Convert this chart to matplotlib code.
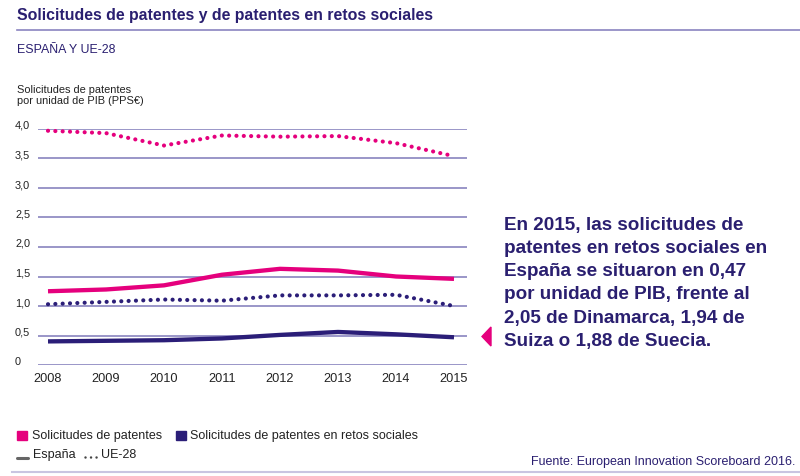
import matplotlib
matplotlib.use("Agg")
import matplotlib.pyplot as plt
from matplotlib.lines import Line2D
from matplotlib.patches import Rectangle, Polygon

# datos
anios = [2008, 2009, 2010, 2011, 2012, 2013, 2014, 2015]
esp_patentes = [1.25, 1.28, 1.35, 1.53, 1.63, 1.60, 1.50, 1.46]
ue_patentes = [3.97, 3.93, 3.72, 3.89, 3.87, 3.88, 3.76, 3.54]
esp_retos = [0.40, 0.41, 0.42, 0.45, 0.51, 0.56, 0.52, 0.47]
ue_retos = [1.03, 1.07, 1.11, 1.09, 1.18, 1.18, 1.19, 1.00]
yticks = [0, 0.5, 1.0, 1.5, 2.0, 2.5, 3.0, 3.5, 4.0]
ytick_labels = ["0", "0,5", "1,0", "1,5", "2,0", "2,5", "3,0", "3,5", "4,0"]

titulo = "Solicitudes de patentes y de patentes en retos sociales"
subtitulo = "ESPAÑA Y UE-28"
ylabel = ["Solicitudes de patentes", "por unidad de PIB (PPS€)"]
nota = ["En 2015, las solicitudes de",
        "patentes en retos sociales en",
        "España se situaron en 0,47",
        "por unidad de PIB, frente al",
        "2,05 de Dinamarca, 1,94 de",
        "Suiza o 1,88 de Suecia."]
fuente = "Fuente: European Innovation Scoreboard 2016."

ROSA = "#e5007d"
AZUL = "#2b1e78"
TEXTO = "#2a1f70"
GRID = "#7f79b9"

W, H = 800, 476
plt.rcParams['font.family'] = ['Liberation Sans', 'DejaVu Sans']

fig = plt.figure(figsize=(W / 100, H / 100), dpi=100)


def fx(x):
    return x / W


def fy(y):
    return 1 - y / H


# ejes: x 38..467 px, y 365 (0) .. 129 (4,0)
ax = fig.add_axes([fx(38), fy(365), (467 - 38) / W, (365 - 129) / H])
ax.set_xlim(2008 - 10 / 58, 2015 + 13 / 58)
ax.set_ylim(0, 4.0)
for s in ax.spines.values():
    s.set_visible(False)
ax.set_yticks([])
ax.set_xticks(anios)
ax.set_xticklabels([str(a) for a in anios], fontsize=9.2, color="#222222")
ax.tick_params(axis='x', length=0, pad=6)

for v in yticks:
    ax.axhline(v, color=GRID, lw=1.1, zorder=1)
for v, lab in zip(yticks, ytick_labels):
    ax.text(-23 / 429, v, lab, transform=ax.get_yaxis_transform(),
            ha='left', va='baseline', fontsize=7.9, color="#222222")

punteado = (0, (0.01, 1.75))
ax.plot(anios, ue_patentes, color=ROSA, lw=3, linestyle=punteado,
        dash_capstyle='round', zorder=3, clip_on=False)
ax.plot(anios, ue_retos, color=AZUL, lw=3, linestyle=punteado,
        dash_capstyle='round', zorder=3, clip_on=False)
ax.plot(anios, esp_patentes, color=ROSA, lw=3.1, solid_capstyle='butt',
        solid_joinstyle='round', zorder=4)
ax.plot(anios, esp_retos, color=AZUL, lw=3.1, solid_capstyle='butt',
        solid_joinstyle='round', zorder=4)

# título y subtítulo
fig.text(fx(17), fy(20), titulo, fontsize=11.4, fontweight='bold',
         color=TEXTO, va='baseline', ha='left')
fig.add_artist(Line2D([fx(17), fx(800)], [fy(30), fy(30)], color="#8a84c0", lw=1.2))
fig.text(fx(17), fy(53), subtitulo, fontsize=8.9, color=TEXTO, va='baseline')
fig.text(fx(17), fy(93), ylabel[0], fontsize=7.9, color="#222222", va='baseline')
fig.text(fx(17), fy(104), ylabel[1], fontsize=7.9, color="#222222", va='baseline')

# nota lateral
for i, linea in enumerate(nota):
    fig.text(fx(504), fy(229.5 + i * 23.3), linea, fontsize=13.6, fontweight='bold',
             color=TEXTO, va='baseline', ha='left')
fig.add_artist(Polygon([[fx(491), fy(327)], [fx(491), fy(346)], [fx(482), fy(336.5)]],
                       closed=True, color=ROSA, transform=fig.transFigure))

# leyenda
fig.add_artist(Rectangle((fx(17), fy(440)), 10 / W, 9 / H, color=ROSA,
                         transform=fig.transFigure))
fig.text(fx(32), fy(439), "Solicitudes de patentes", fontsize=9, color="#222222",
         va='baseline')
fig.add_artist(Rectangle((fx(176), fy(440)), 10 / W, 9 / H, color=AZUL,
                         transform=fig.transFigure))
fig.text(fx(190), fy(439), "Solicitudes de patentes en retos sociales", fontsize=9,
         color="#222222", va='baseline')
fig.add_artist(Line2D([fx(17), fx(28)], [fy(458), fy(458)], color="#666666", lw=2.2,
                      solid_capstyle='round'))
fig.text(fx(33), fy(458), "España", fontsize=9, color="#222222", va='baseline')
fig.add_artist(Line2D([fx(85), fx(97)], [fy(457), fy(457)], color="#444444", lw=1.8,
                      linestyle=(0, (0.01, 2.2)), dash_capstyle='round'))
fig.text(fx(101), fy(458), "UE-28", fontsize=9, color="#222222", va='baseline')

fig.text(fx(795), fy(465), fuente, fontsize=9, color=TEXTO, va='baseline', ha='right')
fig.add_artist(Line2D([fx(12), fx(800)], [fy(471.5), fy(471.5)], color="#c9c5e1", lw=1.5))

fig.savefig("out.png", dpi=100)
